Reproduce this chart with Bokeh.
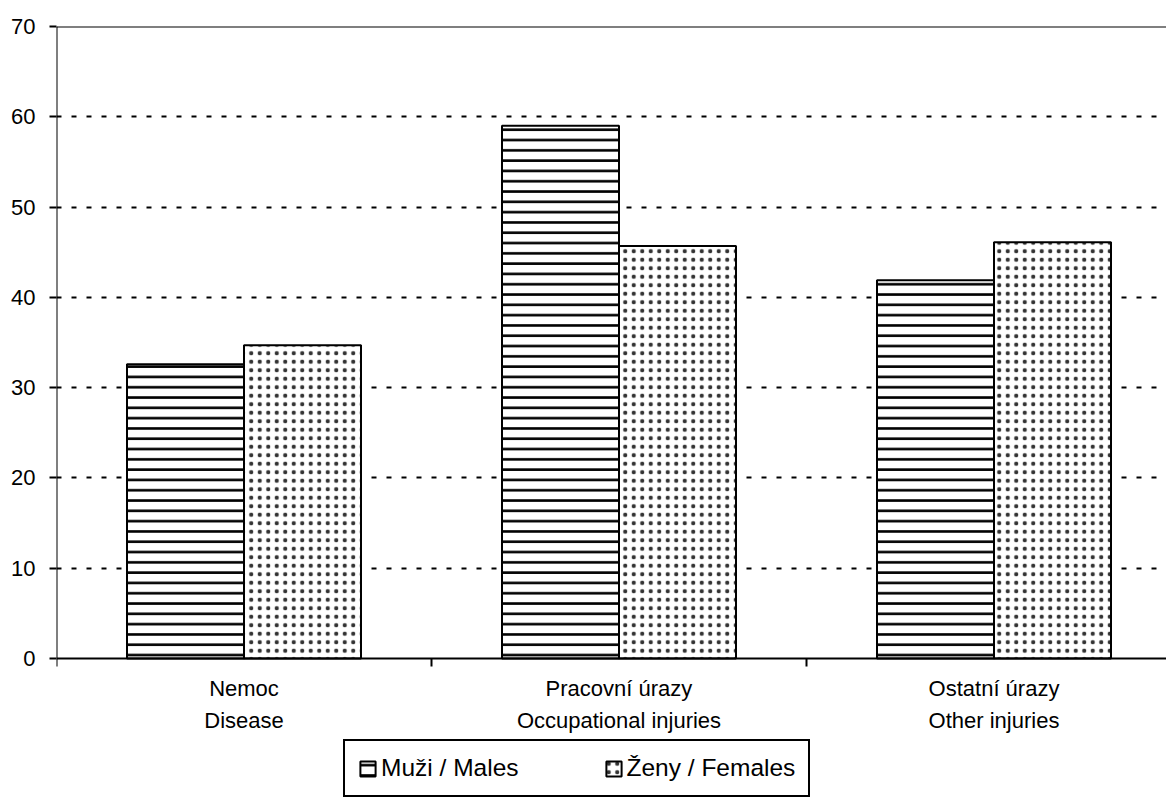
from bokeh.plotting import figure
from bokeh.models import (ColumnDataSource, Range1d, FixedTicker, Span, Legend, LegendItem)
from bokeh.core.properties import value
from bokeh.embed import file_html
from bokeh.resources import INLINE

# ---- data ----
categories_cz = ["Nemoc", "Pracovní úrazy", "Ostatní úrazy"]
categories_en = ["Disease", "Occupational injuries", "Other injuries"]
males = [32.6, 59.0, 41.9]
females = [34.7, 45.7, 46.1]
y_ticks = [0, 10, 20, 30, 40, 50, 60, 70]
series_names = ["Muži / Males", "Ženy / Females"]

FONT = "Liberation Sans"
FS = "22px"

W, H = 1166, 800
LEFT, TOP = 56, 26
PX_PER_UNIT = 9.0286          # vertical scale of the reference
CAT_PX = 375.0                # width of one category
Y_MAX = 70
y_min = Y_MAX - (H - TOP) / PX_PER_UNIT
x_max = (W - LEFT) / CAT_PX

n = len(categories_cz)
centers = [i + 0.5 for i in range(n)]
bounds = list(range(n))
bar_w = 0.312
src = ColumnDataSource(dict(
    xm=[c - bar_w / 2 for c in centers],
    xf=[c + bar_w / 2 for c in centers],
    males=males,
    females=females,
))

p = figure(width=W, height=H,
           x_range=Range1d(0, x_max), y_range=Range1d(y_min, Y_MAX),
           output_backend="svg", toolbar_location=None,
           min_border_left=LEFT, min_border_top=TOP, min_border_right=0,
           min_border_bottom=0)
p.outline_line_color = None
p.background_fill_color = "white"
p.border_fill_color = "white"
p.xaxis.visible = False

# grid
p.xgrid.grid_line_color = None
p.ygrid.ticker = FixedTicker(ticks=y_ticks[1:-1])
p.ygrid.grid_line_color = "black"
p.ygrid.grid_line_width = 2
p.ygrid.grid_line_dash = "5 10"

rm = p.vbar(x="xm", top="males", bottom=0, width=bar_w, source=src,
            fill_color="white", line_color="black", line_width=2,
            hatch_pattern="horizontal_line", hatch_scale=10.3,
            hatch_weight=2.6, hatch_color="black")
rf = p.vbar(x="xf", top="females", bottom=0, width=bar_w, source=src,
            fill_color="white", line_color="black", line_width=2,
            hatch_pattern="dot", hatch_scale=8.5,
            hatch_weight=1.8, hatch_color="#333333")

# top border line and x axis line
p.add_layout(Span(location=Y_MAX, dimension="width", line_color="black",
                  line_width=2))
p.add_layout(Span(location=0, dimension="width", line_color="black",
                  line_width=2))
# y axis line from 0 to 70
p.segment(x0=[0], y0=[0], x1=[0], y1=[Y_MAX], line_color="black", line_width=2)
# x category boundary ticks (8 px down)
tick_len = 8 / PX_PER_UNIT
p.segment(x0=bounds, y0=[0] * n, x1=bounds, y1=[-tick_len] * n,
          line_color="black", line_width=2)

# category labels
p.text(x=centers, y=[0] * n,
       text=[f"{cz}\n{en}" for cz, en in zip(categories_cz, categories_en)],
       text_font=value(FONT), text_font_size=FS, text_color="black",
       text_align="center", text_baseline="top", y_offset=17,
       text_line_height=1.3)

# y axis (ticks + labels only)
yax = p.yaxis[0]
yax.ticker = FixedTicker(ticks=y_ticks, minor_ticks=[])
yax.axis_line_color = None
yax.major_tick_line_width = 2
yax.major_tick_line_color = "black"
yax.major_tick_in = 0
yax.major_tick_out = 7
yax.minor_tick_line_color = None
yax.major_label_text_font = FONT
yax.major_label_text_font_size = FS
yax.major_label_text_color = "black"
yax.major_label_standoff = 14

legend = Legend(items=[LegendItem(label=series_names[0], renderers=[rm]),
                       LegendItem(label=series_names[1], renderers=[rf])],
                orientation="horizontal", location=(287, 3),
                label_text_font=FONT, label_text_font_size="24.5px",
                label_text_color="black",
                glyph_width=19, glyph_height=19, label_standoff=4,
                spacing=85, padding=13, margin=0,
                border_line_color="black", border_line_width=2,
                border_line_alpha=1,
                background_fill_color="white", background_fill_alpha=1)
p.add_layout(legend, "center")

open("out.html", "w").write(file_html(p, INLINE))
